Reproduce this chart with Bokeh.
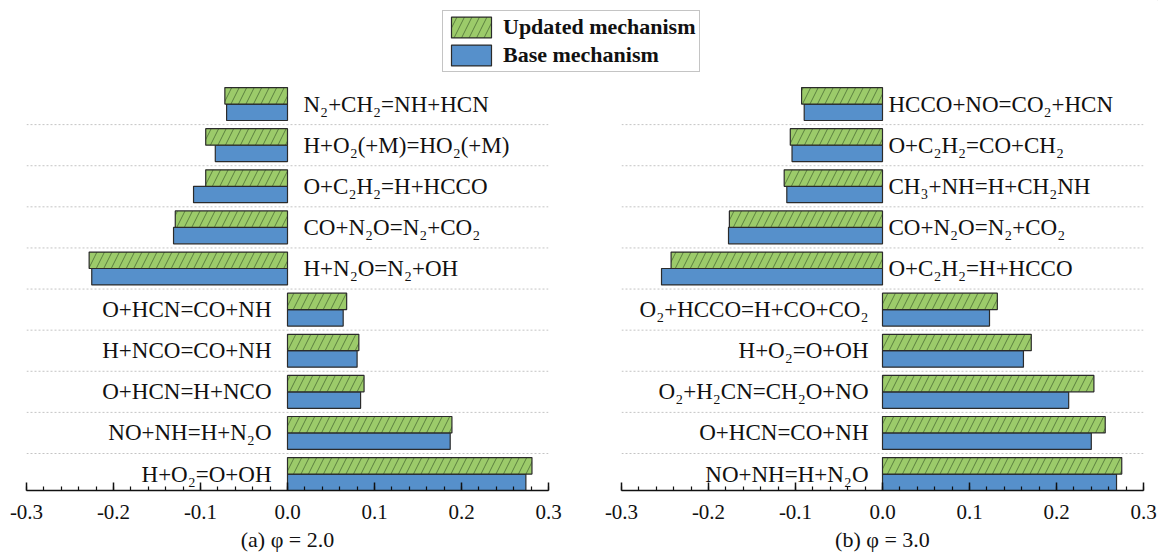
from bokeh.plotting import figure
from bokeh.layouts import column, row
from bokeh.models import ColumnDataSource, Legend, LegendItem, FixedTicker, NumeralTickFormatter
from bokeh.core.properties import value
from bokeh.transform import dodge
from bokeh.embed import file_html
from bokeh.resources import INLINE

# ---- data (top row first) ----
reactions_a = ["N₂+CH₂=NH+HCN", "H+O₂(+M)=HO₂(+M)", "O+C₂H₂=H+HCCO", "CO+N₂O=N₂+CO₂",
               "H+N₂O=N₂+OH", "O+HCN=CO+NH", "H+NCO=CO+NH", "O+HCN=H+NCO",
               "NO+NH=H+N₂O", "H+O₂=O+OH"]
updated_a = [-0.072, -0.094, -0.094, -0.129, -0.228, 0.068, 0.082, 0.088, 0.189, 0.281]
base_a = [-0.070, -0.083, -0.108, -0.131, -0.225, 0.064, 0.080, 0.084, 0.187, 0.274]

reactions_b = ["HCCO+NO=CO₂+HCN", "O+C₂H₂=CO+CH₂", "CH₃+NH=H+CH₂NH", "CO+N₂O=N₂+CO₂",
               "O+C₂H₂=H+HCCO", "O₂+HCCO=H+CO+CO₂", "H+O₂=O+OH", "O₂+H₂CN=CH₂O+NO",
               "O+HCN=CO+NH", "NO+NH=H+N₂O"]
updated_b = [-0.093, -0.106, -0.113, -0.176, -0.243, 0.132, 0.171, 0.243, 0.256, 0.275]
base_b = [-0.090, -0.104, -0.110, -0.177, -0.254, 0.123, 0.162, 0.214, 0.240, 0.269]

x_ticks = [-0.3, -0.2, -0.1, 0.0, 0.1, 0.2, 0.3]
titles = ["(a) φ = 2.0", "(b) φ = 3.0"]
series_names = ["Updated mechanism", "Base mechanism"]

GREEN = "#9ccb6a"
BLUE = "#5690cb"
EDGE = "#2b2b2b"
FONT = "Liberation Serif"
HATCH = dict(hatch_pattern="/", hatch_color="#3c5a2a", hatch_weight=0.8,
             hatch_scale=15, hatch_alpha=0.85)

TOP_H = 76
PANEL_H = 560 - TOP_H


def panel(reactions, upd, base, title, width, border_left, border_right, neg_off, pos_off):
    n = len(reactions)
    ypos = [n - 1 - i for i in range(n)]
    p = figure(width=width, height=PANEL_H, x_range=(x_ticks[0], x_ticks[-1]),
               y_range=(-0.4, n - 0.5),
               toolbar_location=None, output_backend="svg",
               min_border_left=border_left, min_border_right=border_right,
               min_border_top=7, min_border_bottom=70)
    p.outline_line_color = None
    p.grid.visible = False
    p.yaxis.visible = False

    # dotted separators between rows
    seps = [k + 0.5 for k in range(n - 1)]
    p.segment(x0=[x_ticks[0]] * len(seps), x1=[x_ticks[-1]] * len(seps), y0=seps, y1=seps,
              line_color="#c4c4c4", line_dash="2 2", line_width=1)

    src = ColumnDataSource(dict(y=ypos, upd=upd, base=base, name=reactions))
    p.hbar(y=dodge("y", -0.2), left=0, right="base", height=0.4, source=src,
           fill_color=BLUE, line_color=EDGE, line_width=1.2)
    p.hbar(y=dodge("y", 0.2), left=0, right="upd", height=0.4, source=src,
           fill_color=GREEN, line_color=EDGE, line_width=1.2, **HATCH)

    neg = dict(y=[], name=[])
    pos = dict(y=[], name=[])
    for yy, nm, u in zip(ypos, reactions, upd):
        d = neg if u < 0 else pos
        d["y"].append(yy)
        d["name"].append(nm)
    p.text(x=0, y="y", text="name", source=ColumnDataSource(neg), x_offset=neg_off,
           text_align="left", text_baseline="middle", text_font=value(FONT),
           text_font_size="23px", text_color="#111111")
    p.text(x=0, y="y", text="name", source=ColumnDataSource(pos), x_offset=-pos_off,
           text_align="right", text_baseline="middle", text_font=value(FONT),
           text_font_size="23px", text_color="#111111")

    ax = p.xaxis[0]
    ax.ticker = FixedTicker(ticks=x_ticks,
                            minor_ticks=[round(-0.3 + 0.02 * k, 2) for k in range(31)])
    ax.formatter = NumeralTickFormatter(format="0.0")
    ax.major_tick_in = 8
    ax.major_tick_out = 0
    ax.minor_tick_in = 4
    ax.minor_tick_out = 0
    ax.axis_line_width = 1.5
    ax.axis_line_color = "#111111"
    ax.major_tick_line_color = "#111111"
    ax.major_tick_line_width = 1.5
    ax.minor_tick_line_color = "#111111"
    ax.minor_tick_line_width = 1.2
    ax.major_label_text_font = FONT
    ax.major_label_text_font_size = "21px"
    ax.major_label_text_color = "#111111"
    ax.major_label_standoff = 14
    ax.axis_label = title
    ax.axis_label_text_font = FONT
    ax.axis_label_text_font_size = "22px"
    ax.axis_label_text_font_style = "normal"
    ax.axis_label_text_color = "#111111"
    ax.axis_label_standoff = 5
    return p


left = panel(reactions_a, updated_a, base_a, titles[0], 579, 26, 31, 16, 16)
right = panel(reactions_b, updated_b, base_b, titles[1], 579, 42, 15, 6, 14)

# legend figure (swatch renderers sit outside the visible range)
top = figure(width=1158, height=TOP_H, x_range=(0, 1), y_range=(0, 1), toolbar_location=None,
             output_backend="svg", min_border=0)
top.outline_line_color = None
top.grid.visible = False
top.axis.visible = False
hidden = ColumnDataSource(dict(y=[5.0], l=[5.0], r=[6.0]))
r_upd = top.hbar(y="y", left="l", right="r", height=0.4, source=hidden, fill_color=GREEN,
                 line_color=EDGE, line_width=1.2, **HATCH)
r_base = top.hbar(y="y", left="l", right="r", height=0.4, source=hidden, fill_color=BLUE,
                  line_color=EDGE, line_width=1.2)
legend = Legend(items=[LegendItem(label=series_names[0], renderers=[r_upd]),
                       LegendItem(label=series_names[1], renderers=[r_base])],
                location=(442, TOP_H - 72), orientation="vertical", glyph_width=50,
                glyph_height=26, label_height=26, label_standoff=7, padding=3, spacing=2,
                margin=0, label_text_font=FONT, label_text_font_size="22px",
                label_text_font_style="bold", label_text_color="#111111",
                border_line_color="#8a8a8a", border_line_width=1,
                background_fill_color="white")
top.add_layout(legend)

layout = column(top, row(left, right))
open("out.html", "w").write(file_html(layout, INLINE))
